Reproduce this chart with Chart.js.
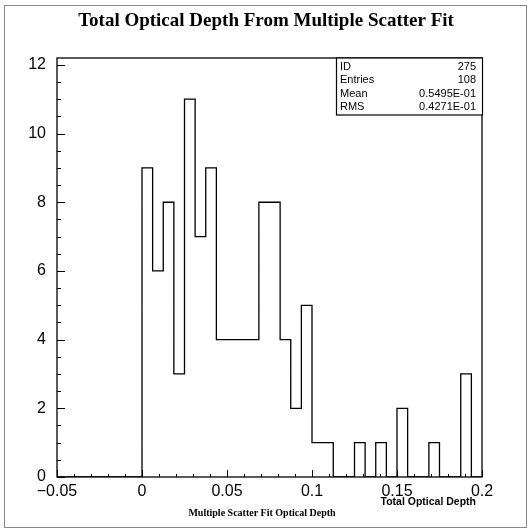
<!DOCTYPE html>
<html>
<head>
<meta charset="utf-8">
<script src="https://cdn.jsdelivr.net/npm/chart.js@4.4.1/dist/chart.umd.min.js"></script>
<style>
  html, body { margin: 0; padding: 0; background: #fff; }
  #wrap { width: 530px; height: 530px; }
</style>
</head>
<body>
<div id="wrap"><canvas id="histo"></canvas></div>
<script>
// histogram: 40 bins from -0.05 to 0.2
const binLow = -0.05;
const binHigh = 0.2;
const binCounts = [
  0, 0, 0, 0, 0, 0, 0, 0,
  9, 6, 8, 3, 11, 7, 9, 4,
  4, 4, 4, 8, 8, 4, 2, 5,
  1, 1, 0, 0, 1, 0, 1, 0,
  2, 0, 0, 1, 0, 0, 3, 0
];
const xTicks = [-0.05, 0, 0.05, 0.1, 0.15, 0.2];
const yTicks = [0, 2, 4, 6, 8, 10, 12];
const statsLabels = ['ID', 'Entries', 'Mean', 'RMS'];
const statsValues = ['275', '108', '0.5495E-01', '0.4271E-01'];

const binWidth = (binHigh - binLow) / binCounts.length;
// one point per bin low edge, plus the last high edge
const stepPoints = binCounts.map((c, i) => ({ x: binLow + i * binWidth, y: c }));
stepPoints.push({ x: binHigh, y: 0 });

// title, frame, inward ticks, stats box and axis titles
const pawDecor = {
  id: 'pawDecor',
  afterDraw(chart) {
    const ctx = chart.ctx;
    const a = chart.chartArea;
    const xs = chart.scales.x;
    const ys = chart.scales.y;
    ctx.save();

    // outer page frame
    ctx.strokeStyle = '#888';
    ctx.lineWidth = 1;
    ctx.strokeRect(4.5, 5.5, 522, 522);

    // title
    ctx.fillStyle = '#000';
    ctx.textAlign = 'center';
    ctx.textBaseline = 'middle';
    ctx.font = 'bold 19px "Liberation Serif", "Times New Roman", serif';
    ctx.fillText('Total Optical Depth From Multiple Scatter Fit', 266, 21);

    // plot frame
    ctx.strokeStyle = '#000';
    ctx.lineWidth = 1.3;
    ctx.strokeRect(a.left, a.top, a.right - a.left, a.bottom - a.top);

    // ticks pointing inwards
    ctx.lineWidth = 1;
    ctx.beginPath();
    for (let i = 0; i <= 25; i++) {
      const v = -0.05 + i * 0.01;
      const px = Math.round(xs.getPixelForValue(v)) + 0.5;
      const len = i % 5 === 0 ? 7 : 3;
      ctx.moveTo(px, a.bottom);
      ctx.lineTo(px, a.bottom - len);
    }
    for (let i = 0; i <= 24; i++) {
      const v = i * 0.5;
      const py = Math.round(ys.getPixelForValue(v)) + 0.5;
      const len = i % 4 === 0 ? 8 : 4;
      ctx.moveTo(a.left, py);
      ctx.lineTo(a.left + len, py);
    }
    ctx.stroke();

    // stats box
    const bx = 336, by = a.top, bw = a.right - 336, bh = 57;
    ctx.fillStyle = '#fff';
    ctx.fillRect(bx, by, bw, bh);
    ctx.lineWidth = 1.2;
    ctx.strokeRect(bx + 0.5, by, bw, bh);
    ctx.fillStyle = '#000';
    ctx.font = '11px "Liberation Sans", Arial, sans-serif';
    statsLabels.forEach((lab, i) => {
      const ty = by + 9 + i * 13.3;
      ctx.textAlign = 'left';
      ctx.fillText(lab, bx + 4, ty);
      ctx.textAlign = 'right';
      ctx.fillText(statsValues[i], a.right - 6, ty);
    });

    // axis titles
    ctx.textAlign = 'right';
    ctx.font = 'bold 10.5px "Liberation Sans", Arial, sans-serif';
    ctx.fillText('Total Optical Depth', 476, 502);
    ctx.textAlign = 'center';
    ctx.font = 'bold 10px "Liberation Serif", "Times New Roman", serif';
    ctx.fillText('Multiple Scatter Fit Optical Depth', 262, 513);

    ctx.restore();
  }
};

const ctx = document.getElementById('histo').getContext('2d');
new Chart(ctx, {
  type: 'line',
  data: {
    datasets: [{
      data: stepPoints,
      stepped: 'before',
      borderColor: '#000',
      borderWidth: 1.3,
      pointRadius: 0,
      fill: false
    }]
  },
  options: {
    responsive: true,
    maintainAspectRatio: false,
    animation: false,
    layout: { padding: { top: 58, right: 48, bottom: 0, left: 0 } },
    plugins: {
      legend: { display: false },
      tooltip: { enabled: false },
      title: { display: false }
    },
    scales: {
      x: {
        type: 'linear',
        min: binLow,
        max: binHigh,
        afterFit: s => { s.height = 53; },
        afterBuildTicks: s => { s.ticks = xTicks.map(v => ({ value: v })); },
        grid: { display: false, drawTicks: false },
        border: { display: false },
        ticks: {
          padding: 5,
          color: '#000',
          font: { family: '"Liberation Sans", Arial, sans-serif', size: 16 },
          callback: v => (v < 0 ? '\u2212' : '') + String(Math.abs(Math.round(v * 100) / 100))
        }
      },
      y: {
        type: 'linear',
        min: 0,
        max: 12.2,
        afterFit: s => { s.width = 57; },
        afterBuildTicks: s => { s.ticks = yTicks.map(v => ({ value: v })); },
        grid: { display: false, drawTicks: false },
        border: { display: false },
        ticks: {
          padding: 11,
          color: '#000',
          font: { family: '"Liberation Sans", Arial, sans-serif', size: 16 }
        }
      }
    }
  },
  plugins: [pawDecor]
});
</script>
</body>
</html>
